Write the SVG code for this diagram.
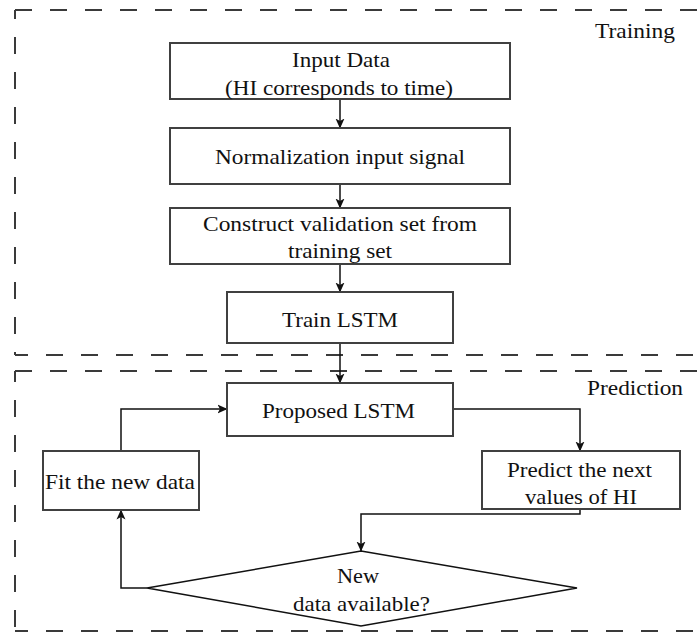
<svg xmlns="http://www.w3.org/2000/svg" width="699" height="632" viewBox="0 0 699 632">
  <style>
    .frame { fill: none; stroke: #3a3a3a; stroke-width: 2; stroke-dasharray: 17 18; }
    .box { fill: #ffffff; stroke: #404040; stroke-width: 2; }
    .wire { fill: none; stroke: #111111; stroke-width: 1.5; }
    text { font-family: "Liberation Serif", "Times New Roman", serif; font-size: 21px; fill: #111111; }
  </style>
  <defs>
    <marker id="arrow" viewBox="0 0 10 10" refX="9.5" refY="5" markerWidth="10" markerHeight="10" markerUnits="userSpaceOnUse" orient="auto">
      <path d="M0,0.5 L10,5 L0,9.5 L2.5,5 Z" fill="#111111"/>
    </marker>
  </defs>

  <!-- Training frame -->
  <g id="frame-training">
    <line class="frame" x1="15" y1="10" x2="699" y2="10"/>
    <line class="frame" x1="15" y1="10" x2="15" y2="355" stroke-dashoffset="8"/>
    <line class="frame" x1="15" y1="355" x2="699" y2="355" stroke-dashoffset="4"/>
    <text x="595" y="38" textLength="80" lengthAdjust="spacingAndGlyphs">Training</text>
  </g>

  <!-- Prediction frame -->
  <g id="frame-prediction">
    <line class="frame" x1="15" y1="371" x2="699" y2="371"/>
    <line class="frame" x1="15" y1="371" x2="15" y2="631" stroke-dashoffset="6"/>
    <line class="frame" x1="15" y1="631" x2="699" y2="631" stroke-dashoffset="4"/>
    <text x="587" y="395" textLength="96" lengthAdjust="spacingAndGlyphs">Prediction</text>
  </g>

  <!-- Connectors -->
  <g id="connectors">
    <path class="wire" d="M340,99 V128" marker-end="url(#arrow)"/>
    <path class="wire" d="M340,184 V208" marker-end="url(#arrow)"/>
    <path class="wire" d="M340,264 V292" marker-end="url(#arrow)"/>
    <path class="wire" d="M340,343 V383" marker-end="url(#arrow)"/>
    <path class="wire" d="M453,409 H580 V451" marker-end="url(#arrow)"/>
    <path class="wire" d="M580,509 V514 H361 V551" marker-end="url(#arrow)"/>
    <path class="wire" d="M147,588 H121 V510" marker-end="url(#arrow)"/>
    <path class="wire" d="M121,451 V409 H227" marker-end="url(#arrow)"/>
  </g>

  <g id="input-data">
    <rect class="box" x="170" y="43" width="340" height="56"/>
    <text x="292" y="67" textLength="98" lengthAdjust="spacingAndGlyphs">Input Data</text>
    <text x="225" y="95" textLength="228" lengthAdjust="spacingAndGlyphs">(HI corresponds to time)</text>
  </g>

  <g id="normalization">
    <rect class="box" x="170" y="128" width="340" height="56"/>
    <text x="215" y="164" textLength="250" lengthAdjust="spacingAndGlyphs">Normalization input signal</text>
  </g>

  <g id="validation-set">
    <rect class="box" x="170" y="208" width="340" height="56"/>
    <text x="203" y="231" textLength="274" lengthAdjust="spacingAndGlyphs">Construct validation set from</text>
    <text x="288" y="258" textLength="104" lengthAdjust="spacingAndGlyphs">training set</text>
  </g>

  <g id="train-lstm">
    <rect class="box" x="227" y="292" width="226" height="51"/>
    <text x="282" y="327" textLength="116" lengthAdjust="spacingAndGlyphs">Train LSTM</text>
  </g>

  <g id="proposed-lstm">
    <rect class="box" x="227" y="383" width="226" height="53"/>
    <text x="262" y="418" textLength="153" lengthAdjust="spacingAndGlyphs">Proposed LSTM</text>
  </g>

  <g id="predict-next">
    <rect class="box" x="482" y="451" width="198" height="58"/>
    <text x="507" y="477" textLength="145" lengthAdjust="spacingAndGlyphs">Predict the next</text>
    <text x="525" y="504" textLength="112" lengthAdjust="spacingAndGlyphs">values of HI</text>
  </g>

  <g id="fit-new-data">
    <rect class="box" x="43" y="451" width="156" height="59"/>
    <text x="45" y="489" textLength="150" lengthAdjust="spacingAndGlyphs">Fit the new data</text>
  </g>

  <g id="new-data-decision">
    <polygon points="361,551 577,588 361,626 147,588" fill="#ffffff" stroke="#111111" stroke-width="1.5"/>
    <text x="337" y="583" textLength="42" lengthAdjust="spacingAndGlyphs">New</text>
    <text x="293" y="611" textLength="137" lengthAdjust="spacingAndGlyphs">data available?</text>
  </g>
</svg>
